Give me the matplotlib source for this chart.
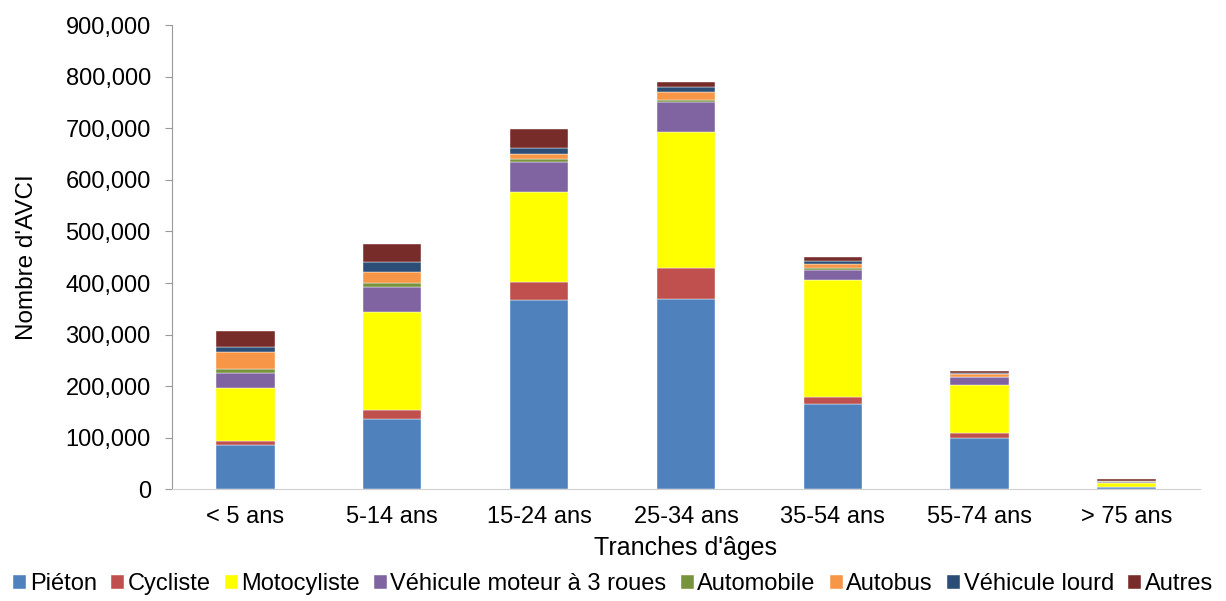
import numpy as np
import matplotlib.pyplot as plt
from matplotlib.ticker import FuncFormatter

plt.rcParams['font.family'] = ['Liberation Sans', 'DejaVu Sans']

categories = ['< 5 ans', '5-14 ans', '15-24 ans', '25-34 ans', '35-54 ans', '55-74 ans', '> 75 ans']
series_names = ['Piéton', 'Cycliste', 'Motocyliste', 'Véhicule moteur à 3 roues',
                'Automobile', 'Autobus', 'Véhicule lourd', 'Autres']

pieton = [85400, 136400, 368000, 369200, 164900, 98900, 3500]
cycliste = [8300, 16900, 34200, 59500, 14200, 11100, 1000]
moto = [103600, 190700, 174000, 263900, 226900, 91800, 7000]
trois_roues = [27200, 47300, 58200, 57600, 18900, 14900, 3000]
automobile = [8300, 7800, 6400, 4500, 4400, 1500, 500]
autobus = [32400, 23200, 8500, 14900, 7800, 6000, 1000]
lourd = [10900, 17500, 11700, 9700, 5200, 1000, 500]
autres = [31000, 35500, 36800, 10300, 8400, 4400, 3000]

colors = ['#4F81BD', '#C0504D', '#FFFF00', '#8064A2', '#77933C', '#F79646', '#2C4D75', '#772C2A']

data = [pieton, cycliste, moto, trois_roues, automobile, autobus, lourd, autres]

fig = plt.figure(figsize=(12.26, 6.01), dpi=100)
ax = fig.add_axes([0.140, 0.186, 0.839, 0.772])

x = np.arange(len(categories))
bottom = np.zeros(len(categories))
for name, vals, c in zip(series_names, data, colors):
    ax.bar(x, vals, width=0.4, bottom=bottom, color=c, label=name,
           edgecolor='white', linewidth=0.3)
    bottom += np.array(vals)

ax.set_xlim(-0.5, len(categories) - 0.5)
ax.set_ylim(0, 900000)
ax.set_yticks(np.arange(0, 900001, 100000))
ax.yaxis.set_major_formatter(FuncFormatter(lambda v, p: f'{int(v):,}'))
ax.set_xticks(x)
ax.set_xticklabels(categories)
ax.tick_params(axis='both', labelsize=17, colors='black')
ax.tick_params(axis='x', length=0, pad=12)
ax.tick_params(axis='y', length=5, color='#999999', pad=10)

for s in ['top', 'right']:
    ax.spines[s].set_visible(False)
ax.spines['left'].set_color('#999999')
ax.spines['bottom'].set_color('#D0D0D0')

ax.set_xlabel("Tranches d'âges", fontsize=18, labelpad=6)
ax.set_ylabel("Nombre d'AVCI", fontsize=17.5, labelpad=20)

fig.legend(loc='lower center', bbox_to_anchor=(0.5, -0.006), ncol=8, frameon=False,
           fontsize=17, handlelength=0.55, handleheight=0.55, handletextpad=0.15,
           columnspacing=0.6, borderaxespad=0)

fig.savefig('out.png', dpi=100)
